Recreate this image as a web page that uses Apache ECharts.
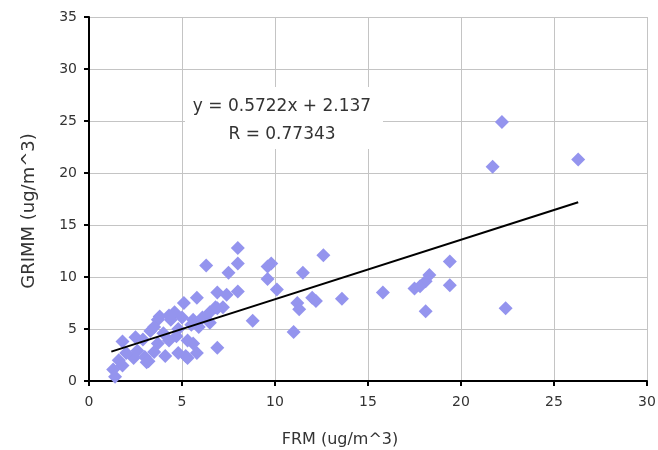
<!DOCTYPE html>
<html>
<head>
<meta charset="utf-8">
<script src="https://cdn.jsdelivr.net/npm/echarts@6/dist/echarts.min.js"></script>
<style>html,body{margin:0;padding:0;background:#fff}#c{width:658px;height:450px}</style>
</head>
<body>
<div id="c"></div>
<script>
const frm = [26.3,22.2,21.7,22.4,19.4,19.4,18.3,18.1,17.8,17.5,18.1,15.8,13.6,12.6,11.5,12.0,12.2,11.2,11.3,11.0,
  10.1,9.8,9.6,9.6,8.8,8.0,8.0,7.5,8.0,6.3,6.9,7.4,5.8,5.1,4.6,6.9,7.2,6.5,6.1,5.6,
  5.0,4.4,3.8,3.7,3.5,3.3,4.0,4.7,5.3,5.6,6.9,3.7,4.8,5.8,5.2,2.5,1.8,2.9,3.5,3.0,
  2.4,1.8,1.3,1.4,2.0,1.6,2.6,3.2,4.1,4.3,5.9,6.5,5.5,4.8,4.3,6.8,3.1,5.3];
const grimm = [21.3,24.9,20.6,7.0,11.5,9.2,10.2,9.6,9.1,8.9,6.7,8.5,7.9,12.1,10.4,8.0,7.7,7.5,6.9,4.7,
  8.8,11.3,11.0,9.8,5.8,12.8,11.3,10.4,8.6,11.1,8.5,8.3,8.0,7.5,6.6,7.0,7.1,6.6,6.1,5.9,
  6.1,5.9,6.2,5.9,5.2,4.8,4.6,4.3,3.9,3.6,3.2,3.6,2.7,2.7,2.4,4.2,3.8,4.0,2.8,2.3,
  2.2,1.5,1.1,0.4,2.7,2.0,2.9,1.9,2.4,3.9,5.2,5.6,5.4,5.0,6.3,7.1,1.8,2.2];
const slope = 0.5722, intercept = 2.137;
const fitX = [1.2, 26.3];
const xTicks = [0,5,10,15,20,25,30];
const yTicks = [0,5,10,15,20,25,30,35];
const eqText = 'y = 0.5722x + 2.137';
const rText = 'R = 0.77343';

const points = frm.map((x,i)=>[x, grimm[i]]);
const fitLine = fitX.map(x=>[x, slope*x+intercept]);
const font = 'DejaVu Sans';
const chart = echarts.init(document.getElementById('c'), null, {renderer:'canvas'});
chart.setOption({
  animation:false,
  grid:{left:89,right:11,top:17,bottom:69,outerBoundsMode:'none',containLabel:false},
  xAxis:{type:'value',min:xTicks[0],max:xTicks[xTicks.length-1],interval:5,
    name:'FRM (ug/m^3)',nameLocation:'middle',nameGap:51,
    nameTextStyle:{fontFamily:font,fontSize:16,color:'#333',padding:[0,56,0,0]},
    axisLine:{show:true,onZero:false,lineStyle:{color:'#000',width:2}},
    axisTick:{show:true,length:5,lineStyle:{color:'#000',width:2}},
    axisLabel:{fontFamily:font,fontSize:14,color:'#333',margin:14},
    splitLine:{show:true,lineStyle:{color:'#c4c4c4',width:1}}},
  yAxis:{type:'value',min:yTicks[0],max:yTicks[yTicks.length-1],interval:5,
    name:'GRIMM (ug/m^3)',nameLocation:'middle',nameGap:51,
    nameTextStyle:{fontFamily:font,fontSize:18,color:'#333',padding:[0,24,0,0]},
    axisLine:{show:true,onZero:false,lineStyle:{color:'#000',width:2}},
    axisTick:{show:true,length:5,lineStyle:{color:'#000',width:2}},
    axisLabel:{fontFamily:font,fontSize:14,color:'#333',margin:12},
    splitLine:{show:true,lineStyle:{color:'#c4c4c4',width:1}}},
  series:[
    {type:'scatter',data:points,symbol:'diamond',symbolSize:14,
      itemStyle:{color:'#9494ee',opacity:1},z:2},
    {type:'line',data:fitLine,symbol:'none',lineStyle:{color:'#000',width:2},z:3}
  ],
  graphic:[
    {type:'rect',shape:{x:185,y:87,width:198,height:62},style:{fill:'#fff'},z:1},
    {type:'text',x:282,y:107,style:{text:eqText,fontFamily:font,fontSize:17,fill:'#333',align:'center',verticalAlign:'middle'},z:10},
    {type:'text',x:282,y:135,style:{text:rText,fontFamily:font,fontSize:17,fill:'#333',align:'center',verticalAlign:'middle'},z:10}
  ]
});
</script>
</body>
</html>
